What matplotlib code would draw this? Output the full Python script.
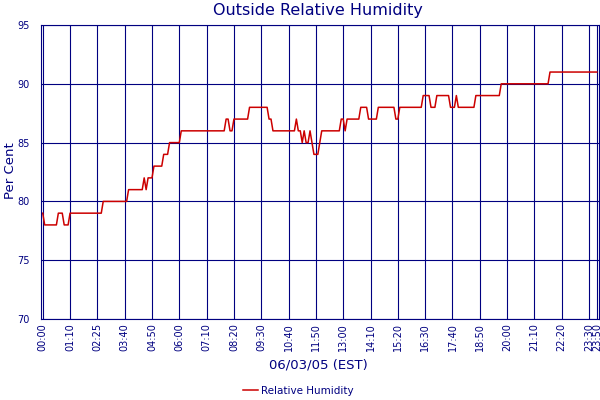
import matplotlib
matplotlib.use("Agg")
import matplotlib.pyplot as plt

title = "Outside Relative Humidity"
y_label = "Per Cent"
x_label = "06/03/05 (EST)"
series_name = "Relative Humidity"

# one reading per sample (about every 5 minutes), 14 samples per tick interval
humidity = [
    79, 78, 78, 78, 78, 78, 78, 78, 79, 79, 79, 78, 78, 78,
    79, 79, 79, 79, 79, 79, 79, 79, 79, 79, 79, 79, 79, 79,
    79, 79, 79, 80, 80, 80, 80, 80, 80, 80, 80, 80, 80, 80,
    80, 80, 81, 81, 81, 81, 81, 81, 81, 81, 82, 81, 82, 82,
    82, 83, 83, 83, 83, 83, 84, 84, 84, 85, 85, 85, 85, 85,
    85, 86, 86, 86, 86, 86, 86, 86, 86, 86, 86, 86, 86, 86,
    86, 86, 86, 86, 86, 86, 86, 86, 86, 86, 87, 87, 86, 86,
    87, 87, 87, 87, 87, 87, 87, 87, 88, 88, 88, 88, 88, 88,
    88, 88, 88, 88, 87, 87, 86, 86, 86, 86, 86, 86, 86, 86,
    86, 86, 86, 86, 87, 86, 86, 85, 86, 85, 85, 86, 85, 84,
    84, 84, 85, 86, 86, 86, 86, 86, 86, 86, 86, 86, 86, 87,
    87, 86, 87, 87, 87, 87, 87, 87, 87, 88, 88, 88, 88, 87,
    87, 87, 87, 87, 88, 88, 88, 88, 88, 88, 88, 88, 88, 87,
    87, 88, 88, 88, 88, 88, 88, 88, 88, 88, 88, 88, 88, 89,
    89, 89, 89, 88, 88, 88, 89, 89, 89, 89, 89, 89, 89, 88,
    88, 88, 89, 88, 88, 88, 88, 88, 88, 88, 88, 88, 89, 89,
    89, 89, 89, 89, 89, 89, 89, 89, 89, 89, 89, 90, 90, 90,
    90, 90, 90, 90, 90, 90, 90, 90, 90, 90, 90, 90, 90, 90,
    90, 90, 90, 90, 90, 90, 90, 90, 91, 91, 91, 91, 91, 91,
    91, 91, 91, 91, 91, 91, 91, 91, 91, 91, 91, 91, 91, 91,
    91, 91, 91, 91, 91,
]

tick_labels = ["00:00", "01:10", "02:25", "03:40", "04:50", "06:00", "07:10",
               "08:20", "09:30", "10:40", "11:50", "13:00", "14:10", "15:20",
               "16:30", "17:40", "18:50", "20:00", "21:10", "22:20", "23:30",
               "23:50"]
y_ticks = [70, 75, 80, 85, 90, 95]

navy = "#000080"
red = "#CC0000"

fig = plt.figure(figsize=(6, 4), dpi=100)
ax = fig.add_axes([0.0683, 0.2025, 0.93, 0.735])

x = list(range(len(humidity)))
line, = ax.plot(x, humidity, color=red, lw=1.1, label=series_name)

tick_pos = list(range(0, len(humidity) - 4, 14)) + [len(humidity) - 1]
ax.set_xticks(tick_pos)
ax.set_xticklabels(tick_labels, rotation=90, fontsize=7, color=navy)
ax.set_yticks(y_ticks)
ax.set_yticklabels([str(v) for v in y_ticks], fontsize=7, color=navy)
ax.set_xlim(-0.9, 285.1)
ax.set_ylim(70, 95)
ax.tick_params(axis="both", length=0)
ax.tick_params(axis="y", pad=8)
ax.tick_params(axis="x", pad=3)
ax.grid(True, color=navy, lw=0.8)
ax.set_axisbelow(True)
for s in ax.spines.values():
    s.set_color(navy)
    s.set_linewidth(0.8)

fig.text(0.53, 0.9725, title, ha="center", va="center", fontsize=11.5, color=navy)
fig.text(0.0167, 0.5725, y_label, ha="center", va="center", rotation=90,
         fontsize=9.5, color=navy)
fig.text(0.53, 0.0875, x_label, ha="center", va="center", fontsize=9.5, color=navy)
leg = fig.legend(handles=[line], loc="center", bbox_to_anchor=(0.497, 0.0225),
                 frameon=False, fontsize=7.5, handlelength=1.4, handletextpad=0.3,
                 borderaxespad=0, borderpad=0)
for t in leg.get_texts():
    t.set_color(navy)

fig.savefig("out.png", dpi=100)
